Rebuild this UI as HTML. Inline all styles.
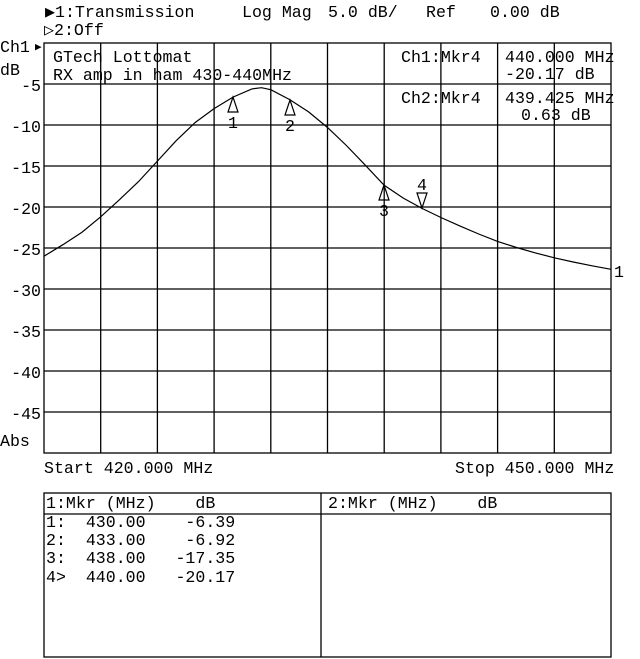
<!DOCTYPE html>
<html><head><meta charset="utf-8"><style>
html,body{margin:0;padding:0;background:#fff;}
svg{display:block;}
text{font-family:"Liberation Mono",monospace;font-size:16.6px;fill:#000;white-space:pre;}
</style></head><body>
<svg width="640" height="659" viewBox="0 0 640 659" xmlns="http://www.w3.org/2000/svg" xml:space="preserve">
<g stroke="#000" stroke-width="1.3" fill="none">
<rect x="44" y="43" width="567" height="410"/>
<line x1="100.7" y1="43" x2="100.7" y2="453"/>
<line x1="157.4" y1="43" x2="157.4" y2="453"/>
<line x1="214.1" y1="43" x2="214.1" y2="453"/>
<line x1="270.8" y1="43" x2="270.8" y2="453"/>
<line x1="327.5" y1="43" x2="327.5" y2="453"/>
<line x1="384.2" y1="43" x2="384.2" y2="453"/>
<line x1="440.9" y1="43" x2="440.9" y2="453"/>
<line x1="497.6" y1="43" x2="497.6" y2="453"/>
<line x1="554.3" y1="43" x2="554.3" y2="453"/>
<line x1="44" y1="84" x2="611" y2="84"/>
<line x1="44" y1="125" x2="611" y2="125"/>
<line x1="44" y1="166" x2="611" y2="166"/>
<line x1="44" y1="207" x2="611" y2="207"/>
<line x1="44" y1="248" x2="611" y2="248"/>
<line x1="44" y1="289" x2="611" y2="289"/>
<line x1="44" y1="330" x2="611" y2="330"/>
<line x1="44" y1="371" x2="611" y2="371"/>
<line x1="44" y1="412" x2="611" y2="412"/>
<rect x="44" y="493" width="567" height="164"/>
<line x1="321" y1="493" x2="321" y2="657"/>
<line x1="44" y1="514" x2="611" y2="514"/>
</g>
<polyline fill="none" stroke="#000" stroke-width="1.2" points="44,256.2 62.9,244.7 81.8,232.4 100.7,216.8 119.6,199.6 138.5,181.6 157.4,161.1 176.3,140.6 195.2,122.5 214.1,108.6 233,97.1 251.9,88.9 261.4,87.7 270.8,89.7 289.7,99.6 308.6,111.9 327.5,127.5 346.4,145.5 365.3,165.2 384.2,185.3 403.1,198 422,208.4 440.9,217.5 459.8,225.9 478.7,234 497.6,241.4 516.5,247.5 535.4,252.9 554.3,257.8 573.2,262 592.1,265.8 611,269.3"/>
<g stroke="#000" stroke-width="1.2" fill="none">
<polygon points="233,97 228,112 238,112"/>
<polygon points="290,100 285,115 295,115"/>
<polygon points="384,185 379,200 389,200"/>
<polygon points="422,208 417,193 427,193"/>
</g>
<text x="228" y="128">1</text>
<text x="285" y="131">2</text>
<text x="379" y="216">3</text>
<text x="417" y="190">4</text>
<text x="614" y="277">1</text>
<text x="45" y="17">▶1:Transmission</text>
<text x="242" y="17">Log Mag</text>
<text x="328" y="17">5.0 dB/</text>
<text x="426" y="17">Ref</text>
<text x="490" y="17">0.00 dB</text>
<text x="44" y="35">▷2:Off</text>
<text x="0" y="52">Ch1</text><text x="35" y="50" style="font-size:11px">▶</text>
<text x="0" y="75">dB</text>
<text x="53" y="62">GTech Lottomat</text>
<text x="53" y="80">RX amp in ham 430-440MHz</text>
<text x="401" y="62">Ch1:Mkr4</text>
<text x="505" y="62">440.000 MHz</text>
<text x="505" y="79">-20.17 dB</text>
<text x="401" y="103">Ch2:Mkr4</text>
<text x="505" y="103">439.425 MHz</text>
<text x="521" y="120">0.63 dB</text>
<g text-anchor="end">
<text x="41" y="91">-5</text>
<text x="41" y="132">-10</text>
<text x="41" y="173">-15</text>
<text x="41" y="214">-20</text>
<text x="41" y="255">-25</text>
<text x="41" y="296">-30</text>
<text x="41" y="337">-35</text>
<text x="41" y="378">-40</text>
<text x="41" y="419">-45</text>
</g>
<text x="0" y="446">Abs</text>
<text x="44" y="473">Start 420.000 MHz</text>
<text x="455" y="473">Stop 450.000 MHz</text>
<text x="46" y="508">1:Mkr (MHz)    dB</text>
<text x="328" y="508">2:Mkr (MHz)    dB</text>
<text x="46" y="527">1:  430.00    -6.39</text>
<text x="46" y="545">2:  433.00    -6.92</text>
<text x="46" y="563">3:  438.00   -17.35</text>
<text x="46" y="582">4&gt;  440.00   -20.17</text>
</svg>
</body></html>
